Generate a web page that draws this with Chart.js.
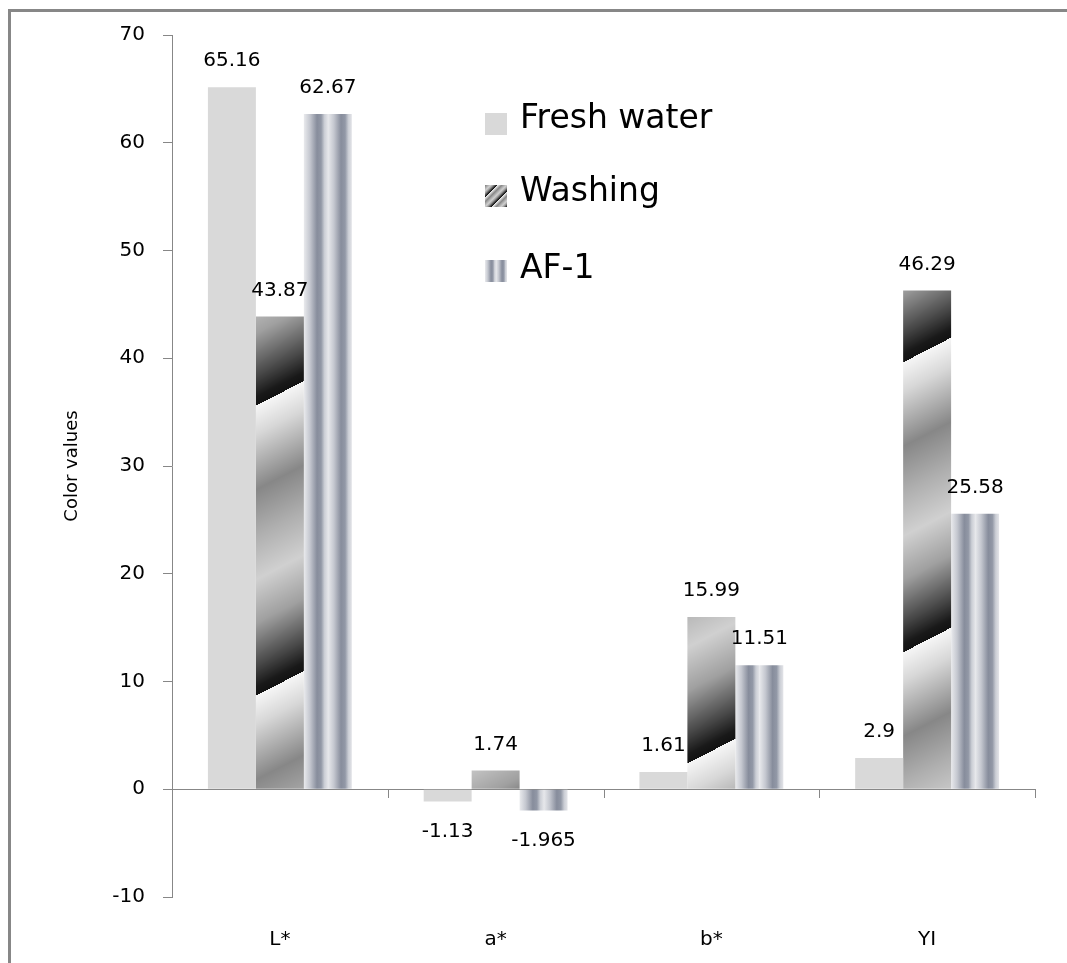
<!DOCTYPE html>
<html lang="en">
<head>
  <meta charset="UTF-8" />
  <title>Color values</title>
  <style>
    body {
      margin: 0;
      width: 1067px;
      height: 963px;
      overflow: hidden;
      position: relative;
      background: #fff;
      font-family: "DejaVu Sans", sans-serif;
    }

    .frame {
      position: absolute;
      left: 8px;
      top: 9px;
      width: 1200px;
      height: 1100px;
      border: 3px solid #878787;
      box-sizing: border-box;
    }

    #chart {
      position: absolute;
      left: 0;
      top: 0;
    }

    .swatch {
      position: absolute;
      left: 485px;
    }

    .legend-text {
      position: absolute;
      left: 520px;
      font-size: 33px;
      line-height: 33px;
      white-space: nowrap;
      color: #000;
    }
  </style>
</head>
<body>
  <div class="frame"></div>
  <canvas id="chart" width="1067" height="963"></canvas>

  <canvas class="swatch" id="sw0" width="22" height="22" style="top:113px"></canvas>
  <span class="legend-text" id="lg0" style="top:100px"></span>
  <canvas class="swatch" id="sw1" width="22" height="22" style="top:185px"></canvas>
  <span class="legend-text" id="lg1" style="top:173px"></span>
  <canvas class="swatch" id="sw2" width="22" height="22" style="top:260px"></canvas>
  <span class="legend-text" id="lg2" style="top:250px"></span>

  <script src="https://cdn.jsdelivr.net/npm/chart.js"></script>
  <script>
    const categories = ["L*", "a*", "b*", "YI"];
    const seriesNames = ["Fresh water", "Washing", "AF-1"];
    const freshWater = [65.16, -1.13, 1.61, 2.9];
    const washing = [43.87, 1.74, 15.99, 46.29];
    const af1 = [62.67, -1.965, 11.51, 25.58];
    const yTicks = [-10, 0, 10, 20, 30, 40, 50, 60, 70];

    const CAT_PCT = 0.667;
    const AXIS_GRAY = "#878787";
    const FONT = '"DejaVu Sans", sans-serif';

    // grey levels along one cycle of the diagonal "Washing" fill
    const washStops = [[0, 246], [0.1, 215], [0.29, 135], [0.45, 175], [0.6, 208],
                       [0.75, 160], [0.9, 70], [0.97, 25], [1, 18]];

    function shade(p) {
      for (let i = 1; i < washStops.length; i++) {
        const [p1, g1] = washStops[i];
        const [p0, g0] = washStops[i - 1];
        if (p <= p1) return g0 + (g1 - g0) * (p - p0) / (p1 - p0);
      }
      return washStops[washStops.length - 1][1];
    }

    function washImage(w, h, phase) {
      const c = document.createElement("canvas");
      c.width = w;
      c.height = h;
      const t = c.getContext("2d");
      const img = t.createImageData(w, h);
      for (let y = 0; y < h; y++) {
        for (let x = 0; x < w; x++) {
          const p = ((phase(x, y) % 1) + 1) % 1;
          const g = shade(p);
          const k = (y * w + x) * 4;
          img.data[k] = g;
          img.data[k + 1] = g;
          img.data[k + 2] = g;
          img.data[k + 3] = 255;
        }
      }
      t.putImageData(img, 0, 0);
      return c;
    }

    // vertical stripe profile of the "AF-1" fill (two stripes per bar)
    const afStops = [[0, "#e9eaed"], [0.25, "#c5c8d0"], [0.55, "#878d9c"],
                     [0.72, "#9298a6"], [0.86, "#cbced5"], [1, "#e3e4e8"]];

    function addAfStops(g) {
      for (let k = 0; k < 2; k++) {
        afStops.forEach(([o, c]) => g.addColorStop((k + o) / 2, c));
      }
      return g;
    }

    const canvas = document.getElementById("chart");
    const ctx = canvas.getContext("2d");

    const W = 563, H = 290, OFF = 0.149;
    const washPattern = ctx.createPattern(
      washImage(W, H, (x, y) => x / W + y / H + OFF), "repeat");

    function af1Fill(context) {
      const xs = context.chart.scales && context.chart.scales.x;
      if (context.type !== "data" || !xs) return "#a9adb8";
      const center = xs.getPixelForValue(context.dataIndex);
      const catW = xs.width / categories.length;
      if (!isFinite(center) || !isFinite(catW) || catW <= 0) return "#a9adb8";
      const groupW = catW * CAT_PCT;
      const barW = groupW / 3;
      const left = center - groupW / 2 + 2 * barW;
      return addAfStops(context.chart.ctx.createLinearGradient(left, 0, left + barW, 0));
    }

    const valueLabels = {
      id: "valueLabels",
      afterDatasetsDraw(chart) {
        const c = chart.ctx;
        c.save();
        c.font = "20px " + FONT;
        c.fillStyle = "#000";
        c.textAlign = "center";
        c.textBaseline = "middle";
        chart.data.datasets.forEach((ds, i) => {
          chart.getDatasetMeta(i).data.forEach((bar, j) => {
            const v = ds.data[j];
            const y = v >= 0 ? bar.y - 26 : bar.y + 30;
            c.fillText(String(v), bar.x, y);
          });
        });
        c.restore();
      }
    };

    // small tick marks below the zero line between categories
    const zeroTicks = {
      id: "zeroTicks",
      afterDraw(chart) {
        const xs = chart.scales.x;
        const y0 = Math.round(chart.scales.y.getPixelForValue(0));
        const catW = xs.width / categories.length;
        const c = chart.ctx;
        c.save();
        c.strokeStyle = AXIS_GRAY;
        c.lineWidth = 1;
        c.beginPath();
        for (let i = 1; i <= categories.length; i++) {
          const x = Math.round(xs.left + i * catW) + 0.5;
          c.moveTo(x, y0);
          c.lineTo(x, y0 + 9);
        }
        c.stroke();
        c.restore();
      }
    };

    Chart.defaults.font.family = FONT;
    Chart.defaults.color = "#000";

    new Chart(ctx, {
      type: "bar",
      data: {
        labels: categories,
        datasets: [
          { label: seriesNames[0], data: freshWater, backgroundColor: "#d9d9d9" },
          { label: seriesNames[1], data: washing, backgroundColor: washPattern },
          { label: seriesNames[2], data: af1, backgroundColor: af1Fill }
        ]
      },
      options: {
        responsive: false,
        animation: false,
        devicePixelRatio: 1,
        layout: { padding: { top: 35, right: 32, bottom: 0, left: 0 } },
        datasets: {
          bar: { categoryPercentage: CAT_PCT, barPercentage: 1, borderWidth: 0 }
        },
        plugins: {
          legend: { display: false },
          tooltip: { enabled: false }
        },
        scales: {
          x: {
            grid: { display: false, drawTicks: false },
            border: { display: false },
            ticks: { font: { size: 20 }, padding: 31, color: "#000" },
            afterFit: (s) => { s.height = 66; }
          },
          y: {
            min: -10,
            max: 70,
            afterBuildTicks: (s) => { s.ticks = yTicks.map(v => ({ value: v })); },
            grid: {
              color: (c) => (c.tick && c.tick.value === 0 ? AXIS_GRAY : "transparent"),
              tickColor: AXIS_GRAY,
              tickLength: 9,
              lineWidth: 1
            },
            border: { display: true, color: AXIS_GRAY, width: 1 },
            ticks: { font: { size: 20 }, padding: 18, color: "#000" },
            title: {
              display: true,
              text: "Color values",
              font: { size: 18 },
              color: "#000",
              padding: { top: 62, bottom: 0 }
            },
            afterFit: (s) => { s.width = 172; }
          }
        }
      },
      plugins: [valueLabels, zeroTicks]
    });

    // legend
    seriesNames.forEach((name, i) => {
      document.getElementById("lg" + i).textContent = name;
    });
    const s0 = document.getElementById("sw0").getContext("2d");
    s0.fillStyle = "#d9d9d9";
    s0.fillRect(0, 0, 22, 22);
    const s1 = document.getElementById("sw1").getContext("2d");
    s1.drawImage(washImage(22, 22, (x, y) => (x + y) / 16 + 0.3), 0, 0);
    const s2 = document.getElementById("sw2").getContext("2d");
    s2.fillStyle = addAfStops(s2.createLinearGradient(0, 0, 22, 0));
    s2.fillRect(0, 0, 22, 22);
  </script>
</body>
</html>
